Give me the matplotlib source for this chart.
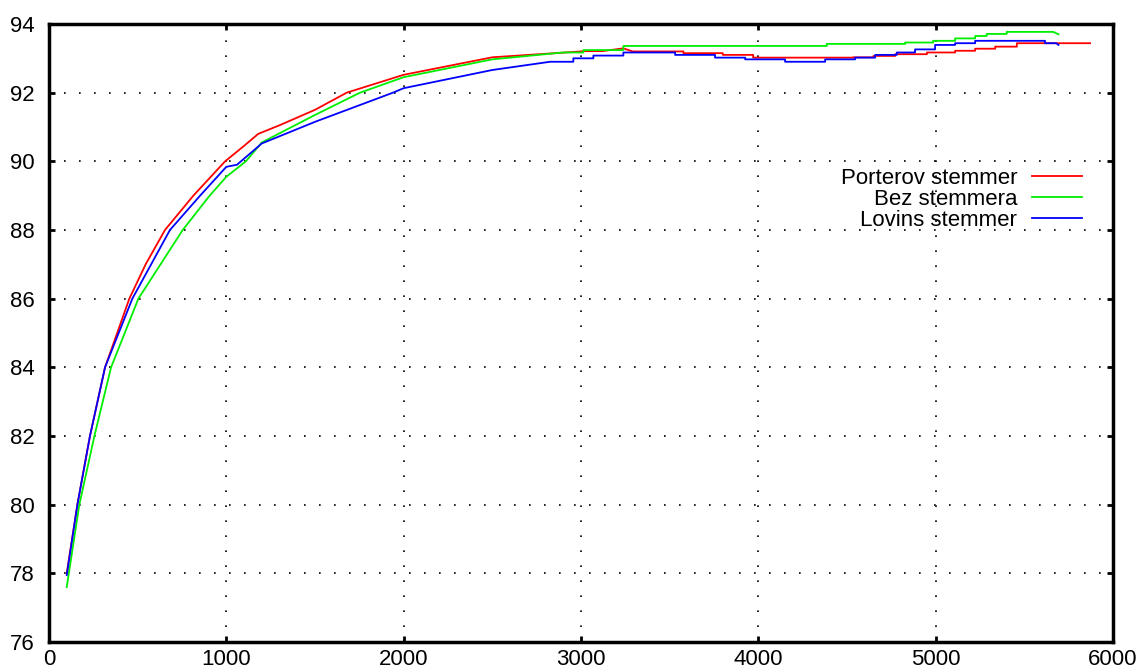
import matplotlib
matplotlib.use("Agg")
import matplotlib.pyplot as plt

# Porterov stemmer (red)
porter_x = [100, 160, 231, 316, 453, 545, 654, 814, 993, 1100, 1180, 1300, 1500, 1679, 2000, 2500, 3000,
            3014, 3120, 3239, 3292, 3578, 3578, 3800, 3800, 3971, 3971, 4535, 4535, 4650, 4650, 4772, 4772,
            4951, 4951, 5110, 5110, 5223, 5223, 5336, 5336, 5458, 5458, 5871]
porter_y = [78.0, 80.0, 82.0, 84.0, 86.0, 87.0, 88.0, 89.0, 90.0, 90.45, 90.8, 91.05, 91.5, 92.0, 92.52, 93.03, 93.2,
            93.21, 93.21, 93.29, 93.2, 93.2, 93.15, 93.15, 93.1, 93.1, 93.02, 93.02, 93.03, 93.03, 93.07, 93.07, 93.12,
            93.12, 93.17, 93.17, 93.22, 93.22, 93.28, 93.28, 93.34, 93.34, 93.44, 93.44]

# Bez stemmera (green)
bez_x = [100, 171, 256, 350, 504, 754, 906, 1000, 1110, 1200, 1500, 1754, 2000, 2500, 2900, 3014, 3014,
         3239, 3239, 4386, 4386, 4828, 4828, 4986, 4986, 5110, 5110, 5223, 5223, 5288, 5288, 5401, 5401,
         5663, 5693]
bez_y = [77.6, 80.0, 82.0, 84.0, 86.0, 88.0, 89.0, 89.55, 90.0, 90.55, 91.35, 92.0, 92.45, 92.97, 93.17, 93.17, 93.24,
         93.24, 93.36, 93.36, 93.42, 93.42, 93.46, 93.46, 93.51, 93.51, 93.58, 93.58, 93.65, 93.65, 93.71, 93.71, 93.77,
         93.77, 93.7]

# Lovins stemmer (blue)
lovins_x = [100, 160, 231, 316, 470, 682, 852, 1000, 1060, 1200, 1500, 1940, 2000, 2500, 2826, 2957, 2957,
            3070, 3070, 3239, 3239, 3531, 3531, 3756, 3756, 3926, 3926, 4151, 4151, 4377, 4377, 4546, 4546,
            4659, 4659, 4781, 4781, 4884, 4884, 4997, 4997, 5110, 5110, 5223, 5223, 5617, 5617, 5680, 5693]
lovins_y = [77.95, 80.0, 82.0, 84.0, 86.0, 88.0, 89.0, 89.84, 89.9, 90.52, 91.15, 92.0, 92.13, 92.66, 92.9, 92.9, 93.0,
            93.0, 93.08, 93.08, 93.17, 93.17, 93.1, 93.1, 93.02, 93.02, 92.97, 92.97, 92.9, 92.9, 92.97, 92.97, 93.02,
            93.02, 93.1, 93.1, 93.17, 93.17, 93.26, 93.26, 93.39, 93.39, 93.44, 93.44, 93.51, 93.51, 93.44, 93.44, 93.39]

x_ticks = [0, 1000, 2000, 3000, 4000, 5000, 6000]
y_ticks = [76, 78, 80, 82, 84, 86, 88, 90, 92, 94]

plt.rcParams["font.family"] = ["Liberation Sans", "DejaVu Sans"]

fig = plt.figure(figsize=(11.45, 6.7), dpi=100)
ax = fig.add_axes([0.0428, 0.0418, 0.9292, 0.9224])

ax.plot(porter_x, porter_y, color="#ff0000", lw=1.3, label="Porterov stemmer")
ax.plot(bez_x, bez_y, color="#00ee00", lw=1.3, label="Bez stemmera")
ax.plot(lovins_x, lovins_y, color="#0000ff", lw=1.3, label="Lovins stemmer")

ax.set_xlim(0, 6000)
ax.set_ylim(76, 94)
ax.set_xticks(x_ticks)
ax.set_yticks(y_ticks)
ax.tick_params(direction="in", length=4, width=2, top=True, right=True,
               labelsize=16, colors="black")
ax.tick_params(axis="y", pad=10)
ax.tick_params(axis="x", pad=5)
ax.grid(True, color="black", linestyle=(0, (1, 8)), linewidth=1.2)

for s in ax.spines.values():
    s.set_linewidth(2.5)

ax.legend(loc="upper right", bbox_to_anchor=(0.99, 0.80), frameon=False, markerfirst=False,
          fontsize=16, handlelength=2.25, labelspacing=0.0, handletextpad=0.68)

plt.savefig("out.png")
